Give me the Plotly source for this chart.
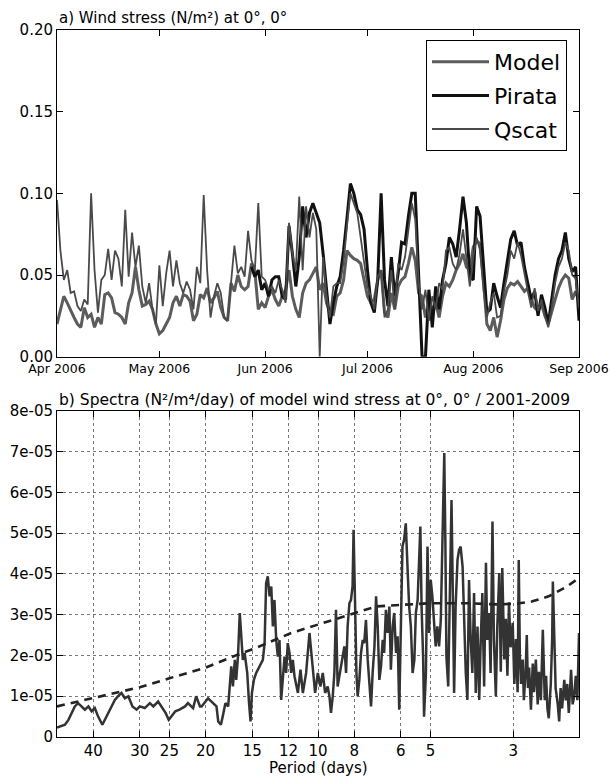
import numpy as np
import pandas as pd
import plotly.graph_objects as go

# ---------------- panel a: daily wind stress, 1 Apr - 1 Sep 2006 ----------------
start_date = "2006-04-01"
n_days = 154

model_tau = [
    0.020, 0.029, 0.037, 0.033, 0.028, 0.024, 0.020, 0.018, 0.030, 0.024,
    0.026, 0.018, 0.024, 0.020, 0.038, 0.039, 0.036, 0.027, 0.026, 0.024,
    0.020, 0.033, 0.039, 0.055, 0.041, 0.031, 0.032, 0.034, 0.029, 0.020,
    0.014, 0.016, 0.020, 0.024, 0.033, 0.037, 0.031, 0.038, 0.037, 0.034,
    0.022, 0.026, 0.038, 0.036, 0.042, 0.033, 0.036, 0.040, 0.030, 0.024,
    0.022, 0.045, 0.040, 0.050, 0.043, 0.041, 0.043, 0.057, 0.052, 0.029,
    0.033, 0.030, 0.037, 0.041, 0.035, 0.031, 0.037, 0.041, 0.053, 0.037,
    0.029, 0.024, 0.039, 0.045, 0.047, 0.051, 0.055, 0.041, 0.045, 0.033,
    0.027, 0.026, 0.037, 0.039, 0.047, 0.065, 0.062, 0.060, 0.059, 0.057,
    0.047, 0.037, 0.033, 0.035, 0.047, 0.053, 0.027, 0.024, 0.039, 0.029,
    0.043, 0.047, 0.049, 0.057, 0.067, 0.059, 0.039, 0.037, 0.024, 0.033,
    0.029, 0.033, 0.024, 0.037, 0.045, 0.043, 0.047, 0.053, 0.057, 0.063,
    0.055, 0.053, 0.067, 0.071, 0.069, 0.047, 0.020, 0.016, 0.024, 0.012,
    0.022, 0.035, 0.042, 0.045, 0.044, 0.046, 0.043, 0.040, 0.042, 0.035,
    0.030, 0.028, 0.032, 0.025, 0.020, 0.028, 0.035, 0.042, 0.047, 0.050,
    0.048, 0.035, 0.040, 0.034,
]

# Pirata buoy record begins at the end of May
pirata_tau = [None] * 57 + [
    0.055, 0.049, 0.053,
    0.041, 0.045, 0.037, 0.047, 0.049, 0.049, 0.037, 0.035, 0.080, 0.063,
    0.043, 0.061, 0.092, 0.073, 0.088, 0.094, 0.088, 0.082, 0.063, 0.039,
    0.020, 0.033, 0.043, 0.049, 0.065, 0.085, 0.106, 0.100, 0.090, 0.087,
    0.078, 0.053, 0.033, 0.027, 0.047, 0.100, 0.047, 0.031, 0.061, 0.037,
    0.051, 0.070, 0.069, 0.086, 0.100, 0.100, 0.045, 0.000, 0.000, 0.041,
    0.018, 0.043, 0.029, 0.047, 0.057, 0.073, 0.069, 0.061, 0.078, 0.098,
    0.082, 0.049, 0.047, 0.092, 0.086, 0.053, 0.027, 0.029, 0.045, 0.037,
    0.030, 0.045, 0.060, 0.072, 0.077, 0.068, 0.070, 0.055, 0.045, 0.035,
    0.040, 0.025, 0.038, 0.030, 0.020, 0.035, 0.050, 0.060, 0.065, 0.076,
    0.060, 0.052, 0.055, 0.022,
]

qscat_tau = [
    0.096, 0.065, 0.047, 0.053, 0.039, 0.040, 0.031, 0.028, 0.035, 0.032,
    0.100, 0.053, 0.027, 0.047, 0.050, 0.066, 0.047, 0.065, 0.060, 0.043,
    0.090, 0.049, 0.076, 0.055, 0.068, 0.043, 0.033, 0.045, 0.029, 0.020,
    0.056, 0.031, 0.051, 0.065, 0.043, 0.059, 0.045, 0.039, 0.046, 0.041,
    0.029, 0.055, 0.045, 0.099, 0.053, 0.024, 0.037, 0.045, 0.039, 0.024,
    0.022, 0.047, 0.068, 0.051, 0.055, 0.049, 0.077, 0.059, 0.053, 0.094,
    0.049, 0.047, 0.041, 0.043, 0.039, 0.047, 0.041, 0.033, 0.082, 0.063,
    0.053, 0.098, 0.053, 0.092, 0.073, 0.088, 0.078, 0.000, 0.061, 0.037,
    0.024, 0.043, 0.045, 0.045, 0.058, 0.080, 0.100, 0.094, 0.088, 0.073,
    0.057, 0.043, 0.037, 0.029, 0.049, 0.053, 0.024, 0.029, 0.053, 0.029,
    0.057, 0.053, 0.061, 0.078, 0.094, 0.084, 0.045, 0.029, 0.041, 0.022,
    0.037, 0.029, 0.045, 0.041, 0.065, 0.067, 0.057, 0.053, 0.063, 0.078,
    0.061, 0.043, 0.061, 0.073, 0.065, 0.041, 0.024, 0.033, 0.039, 0.024,
    0.025, 0.040, 0.050, 0.065, 0.060, 0.070, 0.062, 0.050, 0.040, 0.030,
    0.042, 0.028, 0.035, 0.025, 0.018, 0.030, 0.045, 0.055, 0.060, 0.070,
    0.065, 0.050, 0.048, 0.030,
]

dates = pd.date_range(start_date, periods=n_days, freq="D")

# ---------------- panel b: spectrum of model wind stress ----------------
# period in days, power in units of 1e-5 N^2/m^4/day
spec_period = [
    50.0, 48.6, 47.6, 46.6, 45.7, 44.8, 43.9, 42.9, 42.1, 41.2,
    40.4, 39.6, 38.8, 37.8, 37.2, 36.5, 35.7, 35.0, 34.3, 33.6,
    32.9, 32.2, 31.4, 30.6, 30.0, 29.1, 28.2, 27.6, 26.8, 26.3,
    25.6, 25.1, 24.7, 24.1, 23.5, 22.7, 22.3, 21.6, 21.2, 20.7,
    20.5, 19.7, 19.1, 18.7, 18.5, 18.2, 18.0, 17.7, 17.4, 17.25,
    17.07, 16.9, 16.7, 16.56, 16.38, 16.2, 16.05, 15.9, 15.72, 15.47,
    15.3, 15.16, 15.03, 14.85, 14.64, 14.34, 14.05, 13.9, 13.77, 13.63,
    13.48, 13.34, 13.21, 13.08, 12.94, 12.81, 12.68, 12.55, 12.42, 12.29,
    12.17, 12.05, 11.92, 11.8, 11.68, 11.56, 11.32, 11.14, 10.98, 10.76,
    10.54, 10.43, 10.33, 10.18, 10.01, 9.85, 9.71, 9.57, 9.42, 9.32,
    9.23, 9.13, 9.04, 8.95, 8.86, 8.67, 8.50, 8.41, 8.33, 8.24,
    8.16, 8.08, 8.03, 7.96, 7.89, 7.83, 7.75, 7.67, 7.59, 7.52,
    7.44, 7.36, 7.29, 7.21, 7.14, 7.06, 6.99, 6.92, 6.85, 6.78,
    6.71, 6.65, 6.58, 6.51, 6.44, 6.38, 6.31, 6.25, 6.18, 6.12,
    6.06, 6.0, 5.94, 5.88, 5.82, 5.75, 5.70, 5.64, 5.58, 5.52,
    5.47, 5.41, 5.36, 5.32, 5.28, 5.23, 5.20, 5.14, 5.09, 5.04,
    4.99, 4.94, 4.88, 4.84, 4.79, 4.74, 4.69, 4.64, 4.59, 4.56,
    4.53, 4.48, 4.43, 4.39, 4.35, 4.32, 4.28, 4.23, 4.19, 4.15,
    4.10, 4.06, 4.02, 3.98, 3.94, 3.90, 3.86, 3.82, 3.78, 3.74,
    3.70, 3.67, 3.63, 3.59, 3.55, 3.52, 3.48, 3.45, 3.41, 3.38,
    3.34, 3.31, 3.27, 3.24, 3.21, 3.17, 3.14, 3.11, 3.08, 3.05,
    3.01, 2.98, 2.95, 2.92, 2.90, 2.88, 2.86, 2.83, 2.81, 2.78,
    2.76, 2.74, 2.72, 2.69, 2.66, 2.64, 2.61, 2.58, 2.56, 2.53,
    2.50, 2.47, 2.45, 2.43, 2.41, 2.38, 2.36, 2.35, 2.33, 2.31,
    2.28, 2.26, 2.24, 2.22, 2.19, 2.17, 2.15, 2.13, 2.10, 2.08,
    2.06, 2.04, 2.02, 2.0,
]
spec_power = [
    0.23, 0.26, 0.30, 0.42, 0.59, 0.75, 0.83, 0.75, 0.67, 0.75,
    0.63, 0.71, 0.50, 0.30, 0.42, 0.59, 0.75, 0.91, 1.00, 1.08,
    0.95, 1.00, 0.75, 0.67, 0.75, 0.71, 0.83, 0.75, 0.87, 0.75,
    0.59, 0.42, 0.50, 0.63, 0.67, 0.75, 0.83, 0.71, 1.00, 0.75,
    0.75, 0.95, 0.83, 0.75, 0.38, 0.30, 0.50, 0.83, 0.75, 1.32,
    1.73, 1.24, 1.89, 1.40, 1.97, 3.04, 2.38, 1.89, 2.06, 1.57,
    0.83, 0.38, 1.08, 1.40, 1.57, 1.73, 1.89, 2.30, 3.77, 3.94,
    3.45, 3.69, 2.71, 3.36, 2.38, 1.97, 2.38, 0.91, 1.57, 1.97,
    1.57, 2.30, 2.06, 1.57, 1.89, 1.49, 1.08, 1.65, 1.08, 1.57,
    2.55, 2.06, 1.73, 1.08, 1.57, 1.24, 1.57, 1.08, 1.24, 1.00,
    0.59, 1.00, 1.57, 3.12, 1.24, 1.73, 2.22, 1.57, 2.71, 3.28,
    3.36, 3.69, 5.08, 3.36, 1.57, 1.00, 1.40, 2.06, 2.38, 2.30,
    2.87, 1.89, 1.40, 0.75, 1.57, 2.22, 3.45, 2.71, 1.40, 1.73,
    2.38, 2.06, 3.12, 2.55, 3.20, 1.65, 2.71, 3.04, 2.06, 2.47,
    0.67, 2.71, 4.67, 4.84, 5.24, 4.02, 3.20, 2.71, 1.57, 1.89,
    3.04, 3.36, 4.18, 5.16, 3.20, 1.97, 0.50, 1.57, 4.67, 2.55,
    3.85, 3.45, 2.71, 2.22, 2.71, 2.22, 2.87, 4.84, 6.96, 4.84,
    1.97, 1.24, 3.53, 5.81, 3.20, 1.08, 3.20, 4.35, 4.59, 4.67,
    4.18, 2.71, 1.57, 0.91, 3.85, 2.38, 1.57, 3.53, 1.08, 2.71,
    0.91, 2.22, 3.53, 1.24, 4.27, 2.38, 3.04, 1.57, 5.28, 2.38,
    1.00, 2.71, 4.02, 1.60, 4.14, 1.90, 2.90, 1.50, 3.30, 2.20,
    2.80, 1.30, 2.40, 1.10, 4.34, 2.00, 1.30, 1.90, 0.90, 1.60,
    2.50, 1.20, 1.70, 0.67, 1.80, 1.10, 1.90, 0.80, 1.60, 0.90,
    2.63, 0.90, 1.50, 0.70, 0.46, 1.30, 2.40, 3.81, 2.20, 1.20,
    0.80, 0.38, 1.20, 0.70, 1.40, 0.90, 1.30, 0.59, 1.65, 0.80,
    1.00, 1.50, 0.90, 2.55,
]

# significance level curve (units of 1e-5)
sig_period = [50, 40, 30, 25, 21.8, 20, 16.4, 14.7, 11.8, 9.4,
              8.2, 7.0, 6.0, 5.0, 4.0, 3.3, 2.94, 2.68, 2.41, 2.17, 2.0]
sig_power = [0.75, 0.95, 1.22, 1.44, 1.60, 1.70, 2.02, 2.18, 2.55, 2.83,
             3.00, 3.20, 3.24, 3.28, 3.28, 3.25, 3.27, 3.32, 3.45, 3.67, 3.90]

period_ticks = [40, 30, 25, 20, 15, 12, 10, 8, 6, 5, 3]
power_ticks = [0, 1, 2, 3, 4, 5, 6, 7, 8]
power_ticktext = ["0"] + [f"{v}e-05" for v in power_ticks[1:]]
SCALE = 1e-5

FONT = "DejaVu Sans"

fig = go.Figure()

fig.add_trace(go.Scatter(
    x=dates, y=model_tau, name="Model", mode="lines", legendgroup="m",
    line=dict(color="#5c5c5c", width=3), xaxis="x", yaxis="y"))
fig.add_trace(go.Scatter(
    x=dates, y=pirata_tau, name="Pirata", mode="lines", legendgroup="p",
    line=dict(color="#111111", width=3), xaxis="x", yaxis="y"))
fig.add_trace(go.Scatter(
    x=dates, y=qscat_tau, name="Qscat", mode="lines", legendgroup="q",
    line=dict(color="#4a4a4a", width=1.8), xaxis="x", yaxis="y"))

fig.add_trace(go.Scatter(
    x=spec_period, y=np.array(spec_power) * SCALE, mode="lines",
    line=dict(color="#333333", width=2.5), showlegend=False,
    xaxis="x2", yaxis="y2"))
fig.add_trace(go.Scatter(
    x=sig_period, y=np.array(sig_power) * SCALE, mode="lines",
    line=dict(color="#222222", width=2.6, dash="8px,6px"), showlegend=False,
    xaxis="x2", yaxis="y2"))

W, H = 610, 776
mt, mb, ml, mr = 30, 39, 57, 31
ph = H - mt - mb
top_a, bot_a = 30, 356.7
top_b, bot_b = 410.7, 737.0


def fy(px):
    return min(1.0, max(0.0, 1 - (px - mt) / ph))


frame = dict(showline=True, linecolor="black", linewidth=1, mirror="ticks",
             ticks="inside", tickcolor="black", ticklen=6, zeroline=False,
             automargin=False)
tick15 = dict(family=FONT, size=15, color="black")

fig.update_layout(
    width=W, height=H,
    margin=dict(l=ml, r=mr, t=mt, b=mb, autoexpand=False),
    paper_bgcolor="white", plot_bgcolor="white",
    font=dict(family=FONT, color="black"),
    xaxis=dict(domain=[0, 1], anchor="y", type="date",
               range=["2006-04-01", "2006-09-01"],
               tick0="2006-04-01", dtick="M1", tickformat="%b %Y",
               ticklabeloverflow="allow", ticklabelstandoff=0,
               tickfont=dict(family=FONT, size=12.5, color="black"),
               showgrid=False, **frame),
    yaxis=dict(domain=[fy(bot_a), fy(top_a)], anchor="x",
               range=[0, 0.2], tickvals=[0, 0.05, 0.10, 0.15, 0.20],
               ticktext=["0.00", "0.05", "0.10", "0.15", "0.20"],
               tickfont=tick15, showgrid=False, **frame),
    xaxis2=dict(domain=[0, 1], anchor="y2", type="log",
                range=[np.log10(50), np.log10(2)],
                tickvals=period_ticks, ticktext=[str(p) for p in period_ticks],
                tickfont=tick15,
                showgrid=True, gridcolor="#777777", griddash="dot", gridwidth=1,
                **frame),
    yaxis2=dict(domain=[fy(bot_b), fy(top_b)], anchor="x2",
                range=[0, 8 * SCALE],
                tickvals=[v * SCALE for v in power_ticks], ticktext=power_ticktext,
                tickfont=tick15,
                showgrid=True, gridcolor="#777777", griddash="dot", gridwidth=1,
                **frame),
    legend=dict(x=(567 - ml) / (W - ml - mr), xanchor="right",
                y=fy(40), yanchor="top",
                bgcolor="white", bordercolor="black", borderwidth=1,
                font=dict(family=FONT, size=22, color="black"),
                tracegroupgap=2, itemwidth=57),
    showlegend=True,
    annotations=[
        dict(text="a) Wind stress (N/m²) at 0°, 0°", xref="paper", yref="paper",
             x=0, y=fy(top_a), xanchor="left", yanchor="bottom", yshift=1,
             showarrow=False, font=dict(family=FONT, size=15, color="black")),
        dict(text="b) Spectra (N²/m⁴/day) of model wind stress at 0°, 0° / 2001-2009",
             xref="paper", yref="paper",
             x=0, y=fy(top_b), xanchor="left", yanchor="bottom", yshift=0,
             showarrow=False, font=dict(family=FONT, size=15.5, color="black")),
        dict(text="Period (days)", xref="paper", yref="paper",
             x=0.5, y=0, xanchor="center", yanchor="middle", yshift=-(768 - bot_b),
             showarrow=False, font=dict(family=FONT, size=15, color="black")),
    ],
)

fig.write_html("out.html")
